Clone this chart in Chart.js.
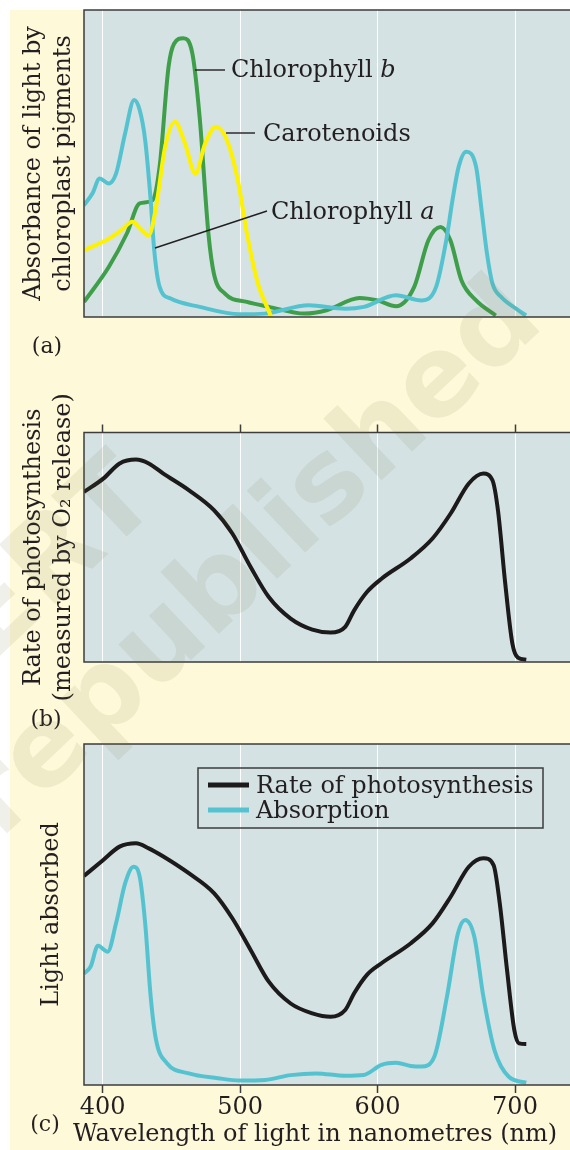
<!DOCTYPE html>
<html>
<head>
<meta charset="utf-8">
<title>Absorption and action spectra</title>
<script src="https://cdn.jsdelivr.net/npm/chart.js@4.4.1/dist/chart.umd.min.js"></script>
<style>
  html, body { margin: 0; padding: 0; background: #fff; }
  #page { position: relative; width: 570px; height: 1150px; overflow: hidden; }
  #paper { position: absolute; left: 10px; top: 10px; right: 0; bottom: 0; background: #fef9d9; }
  canvas { position: absolute; left: 0; }
  #chartA { top: 0; }
  #chartB { top: 370px; }
  #chartC { top: 740px; }
  #mark { top: 0; pointer-events: none; }
</style>
</head>
<body>
<div id="page">
  <div id="paper"></div>
  <canvas id="chartA" width="570" height="370" style="width:570px;height:370px"></canvas>
  <canvas id="chartB" width="570" height="370" style="width:570px;height:370px"></canvas>
  <canvas id="chartC" width="570" height="410" style="width:570px;height:410px"></canvas>
  <canvas id="mark" width="570" height="1150" style="width:570px;height:1150px"></canvas>
</div>
<script>
// wavelength axis (nm)
const nmTicks = [400, 500, 600, 700];
const nmMin = 386.5;
const nmMax = 740;

// (a) chlorophyll a
const chlAWave  = [386.5, 392.6, 397.9, 404.5, 409.8, 416.4, 423, 427, 431, 435, 437.6, 441.5, 449.5, 470.6, 499.7, 518, 550, 576.5, 590, 613.5, 632, 642.6, 650, 654.5, 659, 664.5, 671.7, 675.7, 679.6, 683.6, 690, 700.8, 708];
const chlAValue = [36.4, 40.2, 45.1, 43.5, 46.7, 59.8, 70.7, 67.4, 57.6, 38, 21.7, 9.8, 6, 3.3, 0.9, 1.1, 3.8, 2.7, 3.3, 7.1, 5.4, 9.8, 25, 38, 48.9, 53.8, 48.9, 34.8, 20.7, 10.9, 6.5, 2.7, 0.5];

// (a) chlorophyll b
const chlBWave  = [386.5, 404.5, 417.7, 427, 436.2, 441.5, 448, 452, 458.7, 465.3, 470.6, 477, 481, 489, 505, 521, 547, 563, 587, 600, 613.5, 626.7, 637, 645.8, 653, 661, 671.7, 686];
const chlBValue = [4.9, 16.3, 27.2, 37, 38, 49, 81.5, 89, 90.8, 85.9, 65.2, 27.2, 14.1, 7.6, 4.9, 3.3, 1.1, 2.2, 6.2, 5.4, 3.5, 9.8, 25, 29.3, 25, 12, 5.4, 0.5];

// (a) carotenoids
const carWave  = [386.5, 404.5, 413.8, 421.7, 428.3, 433.6, 438.9, 445.5, 452.6, 460, 467.5, 474.6, 482.5, 490.5, 498.4, 505, 513, 522.2, 525];
const carValue = [21.7, 25.5, 28.3, 31, 28.3, 26.6, 35.9, 55.4, 63.6, 56.5, 46.7, 56.5, 62, 57.6, 44.6, 27.2, 10.9, 0.5, -3];

// (b) rate of photosynthesis
const rateBWave  = [386.5, 400.5, 412.4, 424.3, 433.6, 444.2, 462.7, 481.2, 494.4, 507.7, 520.9, 536.8, 552.6, 565.9, 576.5, 583, 592.3, 602.9, 624, 640, 653.2, 666.4, 677, 683.6, 687.6, 692.9, 698.1, 702.1, 708.2];
const rateBValue = [74.1, 79.9, 86.5, 88.2, 86.5, 82.1, 74.9, 66.1, 56, 41.4, 28.3, 18.9, 14.1, 12.8, 15.3, 22.5, 30.5, 36.3, 45.1, 53.8, 64.7, 77.8, 82.1, 79.2, 66.1, 34.2, 8, 1.9, 1];

// (c) rate of photosynthesis
const rateCWave  = [386.5, 400.5, 412.4, 424.3, 433.6, 444.2, 462.7, 481.2, 494.4, 507.7, 520.9, 536.8, 552.6, 565.9, 576.5, 583, 592.3, 602.9, 624, 640, 653.2, 666.4, 677, 684.4, 688.9, 694.2, 699.5, 703, 708.2];
const rateCValue = [61.3, 66, 69.9, 70.9, 69.4, 67, 62.1, 56.2, 48.9, 39.6, 30.3, 23.9, 21, 20, 22, 26.9, 32.3, 35.7, 41.5, 47.4, 55.2, 64, 66.5, 64.5, 53.3, 33.7, 16.1, 12.2, 12];

// (c) absorption
const absCWave  = [386.5, 391.3, 396.6, 403.7, 409.8, 416.4, 422.5, 427, 431, 435, 438.9, 446.8, 462.7, 483.9, 499.7, 518.3, 536.8, 555.3, 576.5, 589.7, 602.9, 613.5, 624, 632, 641.3, 650.5, 658.5, 663.8, 670.4, 677, 685, 695.5, 708.2];
const absCValue = [32.7, 34.7, 40.8, 39.1, 47.4, 59.1, 64, 61.1, 47.4, 25.9, 13.2, 6.4, 3.4, 2, 1.3, 1.5, 2.9, 3.4, 2.7, 2.9, 5.9, 6.5, 5.6, 5.4, 8.3, 25.9, 44.5, 48.4, 43.5, 25.9, 10.3, 2.4, 0.7];

const serif = "'DejaVu Serif', serif";
const textSize = 24;
const inkColor = '#231f20';
const frameColor = '#3d3d3d';
const plotBg = '#d4e2e3';
const cyan = '#55c3cf';
const green = '#3f9e4a';
const yellow = '#fff200';
const black = '#1c1a1a';

function toPoints(xs, ys) {
    return xs.map((x, i) => ({ x: x, y: ys[i] }));
}

function curve(label, xs, ys, color) {
    return {
        label: label,
        data: toPoints(xs, ys),
        borderColor: color,
        backgroundColor: color,
        borderWidth: 4,
        pointRadius: 0,
        fill: false,
        cubicInterpolationMode: 'monotone'
    };
}

function xAxis(position, boxHeight, showLabels) {
    return {
        type: 'linear',
        position: position,
        min: nmMin,
        max: nmMax,
        afterBuildTicks: scale => { scale.ticks = nmTicks.map(v => ({ value: v })); },
        afterFit: scale => { scale.height = boxHeight; },
        border: { display: false },
        grid: { color: '#ffffff', lineWidth: 1, drawTicks: position !== 'bottom' || showLabels, tickLength: 8, tickColor: frameColor, tickWidth: 1.5 },
        ticks: {
            display: showLabels,
            padding: 0,
            color: inkColor,
            font: { family: serif, size: textSize },
            callback: v => String(v)
        }
    };
}

function yAxis(title, titleOffset) {
    return {
        min: 0,
        max: 100,
        afterFit: scale => { scale.width = 84; },
        border: { display: false },
        grid: { display: false },
        ticks: { display: false },
        title: {
            display: true,
            text: title,
            color: inkColor,
            font: { family: serif, size: textSize, lineHeight: 1.25 },
            padding: { top: titleOffset, bottom: 0 }
        }
    };
}

// plot background, frame and the panel letter
const panelFrame = {
    id: 'panelFrame',
    beforeDraw(chart) {
        const { ctx, chartArea: a } = chart;
        ctx.save();
        ctx.fillStyle = plotBg;
        ctx.fillRect(a.left, a.top, a.right - a.left, a.bottom - a.top);
        ctx.restore();
    },
    afterDatasetsDraw(chart, args, opts) {
        const { ctx, chartArea: a } = chart;
        ctx.save();
        ctx.strokeStyle = frameColor;
        ctx.lineWidth = 1.5;
        ctx.beginPath();
        ctx.moveTo(chart.width, a.top);
        ctx.lineTo(a.left, a.top);
        ctx.lineTo(a.left, a.bottom);
        ctx.lineTo(chart.width, a.bottom);
        ctx.stroke();

        ctx.fillStyle = inkColor;
        ctx.font = '22px ' + serif;
        ctx.textAlign = 'center';
        ctx.textBaseline = 'middle';
        ctx.fillText(opts.letter, opts.lx, opts.ly);
        if (opts.caption) {
            ctx.font = textSize + 'px ' + serif;
            ctx.textAlign = 'left';
            ctx.fillText(opts.caption, opts.cx, opts.cy);
        }
        ctx.restore();
    }
};

// curve names with leader lines in panel (a)
const pigmentNotes = [
    { text: 'Chlorophyll ', tail: 'b', x: 231, y: 77, from: [195, 70], to: [225, 70] },
    { text: 'Carotenoids', tail: '', x: 263, y: 141, from: [226, 133], to: [255, 133] },
    { text: 'Chlorophyll ', tail: 'a', x: 271, y: 219, from: [267, 211], to: [155, 248] }
];

const notesPlugin = {
    id: 'pigmentNotes',
    afterDatasetsDraw(chart) {
        const ctx = chart.ctx;
        ctx.save();
        ctx.strokeStyle = inkColor;
        ctx.fillStyle = inkColor;
        ctx.lineWidth = 1.4;
        ctx.textBaseline = 'alphabetic';
        ctx.textAlign = 'left';
        pigmentNotes.forEach(n => {
            ctx.beginPath();
            ctx.moveTo(n.from[0], n.from[1]);
            ctx.lineTo(n.to[0], n.to[1]);
            ctx.stroke();
            ctx.font = textSize + 'px ' + serif;
            ctx.fillText(n.text, n.x, n.y);
            if (n.tail) {
                const w = ctx.measureText(n.text).width;
                ctx.font = 'italic ' + textSize + 'px ' + serif;
                ctx.fillText(n.tail, n.x + w, n.y);
            }
        });
        ctx.restore();
    }
};

// boxed legend in panel (c)
const boxLegend = {
    id: 'boxLegend',
    afterDatasetsDraw(chart) {
        const ctx = chart.ctx;
        ctx.save();
        ctx.strokeStyle = frameColor;
        ctx.lineWidth = 1.5;
        ctx.strokeRect(198, 28, 345, 60);
        ctx.font = textSize + 'px ' + serif;
        ctx.textBaseline = 'alphabetic';
        ctx.textAlign = 'left';
        chart.data.datasets.forEach((ds, i) => {
            const y = 45 + i * 25;
            ctx.strokeStyle = ds.borderColor;
            ctx.lineWidth = 5;
            ctx.beginPath();
            ctx.moveTo(208, y);
            ctx.lineTo(249, y);
            ctx.stroke();
            ctx.fillStyle = inkColor;
            ctx.fillText(ds.label, 256, y + 8);
        });
        ctx.restore();
    }
};

function baseOptions(padding, frameOpts) {
    return {
        responsive: false,
        animation: false,
        events: [],
        layout: { padding: padding },
        plugins: {
            legend: { display: false },
            tooltip: { enabled: false },
            panelFrame: frameOpts
        }
    };
}

document.addEventListener('DOMContentLoaded', function() {

    // (a) absorption spectra of the pigments
    const optsA = baseOptions({ top: 10, right: 0, bottom: 0, left: 0 }, { letter: '(a)', lx: 47, ly: 347 });
    optsA.scales = {
        x: xAxis('bottom', 53, false),
        y: yAxis(['Absorbance of light by', 'chloroplast pigments'], 19)
    };
    new Chart(document.getElementById('chartA'), {
        type: 'line',
        data: {
            datasets: [
                curve('Carotenoids', carWave, carValue, yellow),
                curve('Chlorophyll a', chlAWave, chlAValue, cyan),
                curve('Chlorophyll b', chlBWave, chlBValue, green)
            ]
        },
        options: optsA,
        plugins: [panelFrame, notesPlugin]
    });

    // (b) action spectrum
    const optsB = baseOptions({ top: 0, right: 0, bottom: 78, left: 0 }, { letter: '(b)', lx: 46, ly: 350 });
    optsB.scales = {
        x: xAxis('top', 62.5, false),
        y: yAxis(['Rate of photosynthesis', '(measured by O\u2082 release)'], 19)
    };
    new Chart(document.getElementById('chartB'), {
        type: 'line',
        data: { datasets: [curve('Rate of photosynthesis', rateBWave, rateBValue, black)] },
        options: optsB,
        plugins: [panelFrame]
    });

    // (c) both curves together
    const optsC = baseOptions({ top: 4, right: 0, bottom: 0, left: 0 }, {
        letter: '(c)', lx: 45, ly: 385,
        caption: 'Wavelength of light in nanometres (nm)', cx: 73, cy: 395
    });
    optsC.scales = {
        x: xAxis('bottom', 65, true),
        y: yAxis('Light absorbed', 37)
    };
    new Chart(document.getElementById('chartC'), {
        type: 'line',
        data: {
            datasets: [
                curve('Rate of photosynthesis', rateCWave, rateCValue, black),
                curve('Absorption', absCWave, absCValue, cyan)
            ]
        },
        options: optsC,
        plugins: [panelFrame, boxLegend]
    });

    // faint diagonal watermark
    const wm = document.getElementById('mark').getContext('2d');
    wm.save();
    wm.translate(-16, 723);
    wm.rotate(-43.3 * Math.PI / 180);
    wm.font = "bold 112px 'DejaVu Sans', sans-serif";
    wm.fillStyle = 'rgba(105, 105, 60, 0.10)';
    wm.textAlign = 'center';
    wm.textBaseline = 'middle';
    wm.fillText('\u00a9 NCERT', 0, -67);
    wm.fillText('not to be republished', 0, 67);
    wm.restore();
});
</script>
</body>
</html>
